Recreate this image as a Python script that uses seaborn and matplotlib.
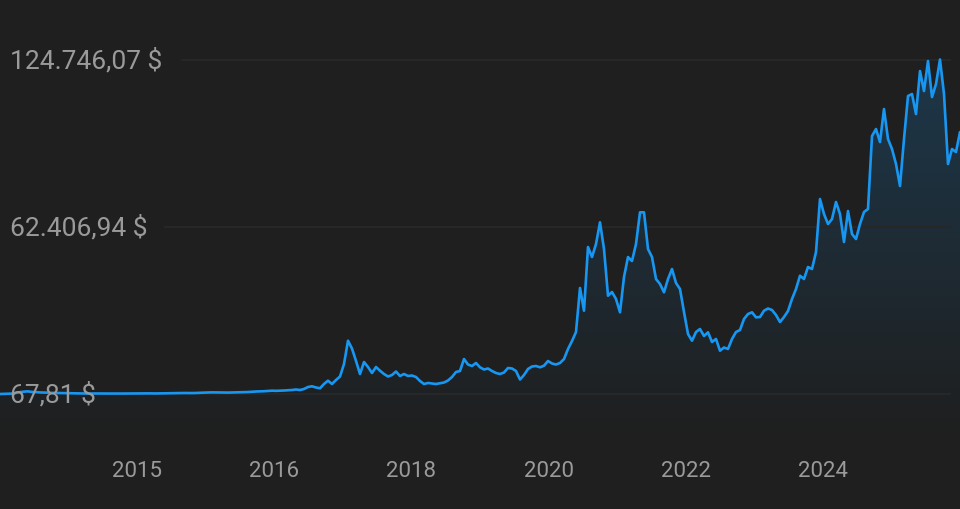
import numpy as np
import matplotlib
matplotlib.use("Agg")
import matplotlib.pyplot as plt
import seaborn as sns
from matplotlib.colors import LinearSegmentedColormap

# price samples, evenly spaced in time
prices_2013_2016 = [
    67.81, 110, 130, 220, 480, 750, 950, 1050, 820, 780, 650, 620, 560, 480,
    450, 420, 380, 350, 320, 300, 260, 240, 230, 250, 260, 240, 230, 240, 250,
    270, 280, 240, 230, 260, 280, 320, 330, 300, 280, 270, 300, 360, 380, 400,
    420, 430, 440, 420, 420, 450, 530, 580, 620, 680, 650, 650, 610, 600, 640,
    700, 720, 760, 800, 900, 1000, 1050, 1100, 1200, 1300, 1250,
]
prices_2017_2019 = [
    1300, 1370, 1450, 1560, 1750, 1560, 1930, 2680, 2940, 2500, 2200, 3800,
    5030, 3800, 5280, 6590, 11250, 19930, 17000, 12400, 7520, 11990, 10130,
    7900, 10130, 8750, 7520, 6590, 7150, 8450, 6780, 7520, 6780, 6960, 6400,
    4910, 3800, 4170, 3980, 3800, 4060, 4350, 5100, 6400, 8270, 8640, 13110,
    11060, 10500, 11620, 10020, 9200, 9570, 8640, 7900, 7520, 8080, 9760, 9570,
    8640,
]
prices_2020_2022 = [
    5470, 7150, 9390, 10320, 10500, 10020, 10620, 12370, 11440, 11060, 11620,
    13110, 16840, 19820, 23170, 39570, 31110, 54850, 51120, 55970, 64060,
    54110, 36700, 38080, 35480, 30520, 43670, 51120, 49640, 55970, 67790,
    67790, 54110, 51120, 42930, 41070, 37970, 42930, 46650, 41440, 39200,
    30630, 22430, 19930, 23170, 24290, 21680, 23060, 19450, 20570, 16200,
    17400, 16840, 20570, 23170, 23920,
]
prices_2023_2025 = [
    28020, 29880, 30520, 28650, 28760, 31110, 31930, 31370, 29510, 26900,
    28760, 31000, 35480, 39200, 44160, 42930, 47400, 46650, 53000, 72740,
    67160, 63430, 65290, 71630, 67160, 56720, 68270, 59700, 57840, 63430,
    67900, 69020, 96220, 98830, 93990, 106290, 95110, 91380, 85790, 77590,
    95110, 111130, 111880, 104420, 120450, 112990, 124180, 110760, 115610,
    124746.07, 111880, 85790, 91380, 90260, 97720,
]
tick_years = ["2015", "2016", "2018", "2020", "2022", "2024"]

prices = np.array(prices_2013_2016 + prices_2017_2019 + prices_2020_2022 + prices_2023_2025)
idx = np.arange(len(prices))

BG = "#1f1f1f"
LINE = "#1897f2"
TEXT = "#9a9a9a"
GRID = "#272727"

sns.set_theme(style="dark")
plt.rcParams["font.family"] = ["Roboto", "DejaVu Sans"]

fig = plt.figure(figsize=(9.6, 5.1), dpi=100, facecolor=BG)
ax = fig.add_axes([0, 70 / 510, 1, 440 / 510])
ax.set_facecolor(BG)

vmin, vmax = prices.min(), prices.max()
vmid = (vmin + vmax) / 2
scale = (vmax - vmin) / 334.5
ylo, yhi = vmin - 45 * scale, vmin + 395 * scale

# gradient fill under the line
cmap = LinearSegmentedColormap.from_list(
    "fade", [(0.09, 0.59, 0.95, 0.0), (0.09, 0.59, 0.95, 0.24)])
grad = np.linspace(0, 1, 256).reshape(-1, 1)
im = ax.imshow(grad, extent=[idx[0], idx[-1], ylo, yhi], origin="lower",
               aspect="auto", cmap=cmap, zorder=1)
poly = ax.fill_between(idx, prices, ylo, color="none", lw=0)
im.set_clip_path(poly.get_paths()[0], transform=ax.transData)

sns.lineplot(x=idx, y=prices, ax=ax, color=LINE, linewidth=1.9, zorder=3)

ax.set_xlim(idx[0], idx[-1])
ax.set_ylim(ylo, yhi)


def fmt(v):
    s = f"{v:,.2f}".replace(",", "X").replace(".", ",").replace("X", ".")
    return s + " $"


for val, start in [(vmax, 0.19), (vmid, 0.172), (vmin, 0.11)]:
    ax.axhline(val, xmin=start, xmax=0.99, color=GRID, lw=1.6, zorder=2)
    ax.text(0.0105, val, fmt(val), transform=ax.get_yaxis_transform(),
            ha="left", va="center", color=TEXT, fontsize=19, zorder=4)

ax.set_yticks([])
n = len(prices) - 1
ax.set_xticks([n * (k + 1) / 7 for k in range(len(tick_years))])
ax.set_xticklabels(tick_years, color=TEXT, fontsize=16)
ax.tick_params(axis="x", length=0, pad=15)
ax.grid(False)
for s in ax.spines.values():
    s.set_visible(False)

fig.savefig("out.png", dpi=100, facecolor=BG)
